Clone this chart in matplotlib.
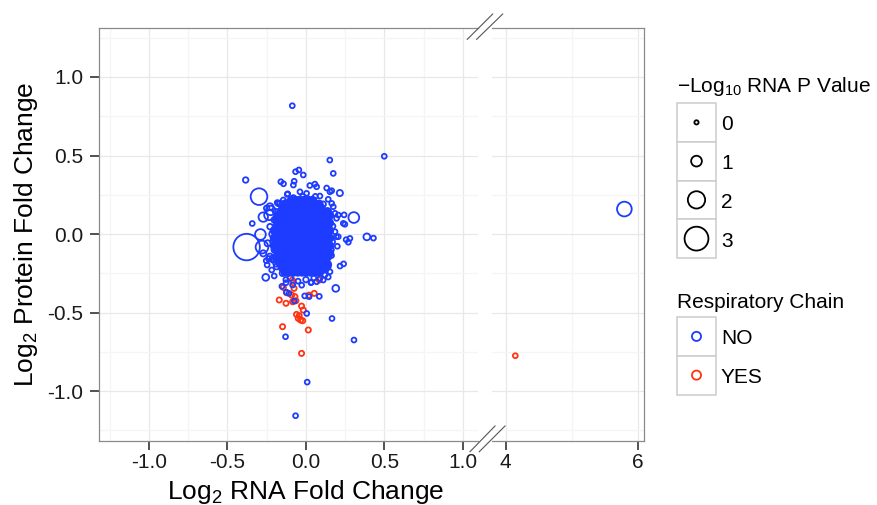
import matplotlib
matplotlib.use('Agg')
import matplotlib.pyplot as plt
from matplotlib.patches import Rectangle
import numpy as np

plt.rcParams['font.family'] = ['Liberation Sans', 'DejaVu Sans']
plt.rcParams['mathtext.fontset'] = 'custom'
plt.rcParams['mathtext.rm'] = 'Liberation Sans'
plt.rcParams['mathtext.it'] = 'Liberation Sans:italic'
plt.rcParams['mathtext.bf'] = 'Liberation Sans:bold'
plt.rcParams['mathtext.default'] = 'regular'
plt.rcParams['axes.unicode_minus'] = False

# ---- data ----
# dense centre of the cloud (respiratory chain = NO), one list of rna fc per protein fc row
core_row_y = [0.214, 0.190, 0.166, 0.142, 0.118, 0.094, 0.070, 0.046, 0.022, -0.002,
              -0.026, -0.050, -0.074, -0.098, -0.122, -0.146, -0.170, -0.194, -0.218,
              -0.242]
core_row_x = [
    [-0.093, -0.066, -0.039, -0.012, 0.015, 0.042],
    [-0.133, -0.106, -0.079, -0.052, -0.025, 0.002, 0.029, 0.056, 0.083],
    [-0.147, -0.120, -0.093, -0.066, -0.039, -0.012, 0.015, 0.042, 0.069, 0.096],
    [-0.160, -0.133, -0.106, -0.079, -0.052, -0.025, 0.002, 0.029, 0.056, 0.083, 0.110, 0.137],
    [-0.174, -0.147, -0.120, -0.093, -0.066, -0.039, -0.012, 0.015, 0.042, 0.069, 0.096, 0.123, 0.150],
    [-0.187, -0.160, -0.133, -0.106, -0.079, -0.052, -0.025, 0.002, 0.029, 0.056, 0.083, 0.110, 0.137],
    [-0.174, -0.147, -0.120, -0.093, -0.066, -0.039, -0.012, 0.015, 0.042, 0.069, 0.096, 0.123, 0.150],
    [-0.187, -0.160, -0.133, -0.106, -0.079, -0.052, -0.025, 0.002, 0.029, 0.056, 0.083, 0.110, 0.137],
    [-0.201, -0.174, -0.147, -0.120, -0.093, -0.066, -0.039, -0.012, 0.015, 0.042, 0.069, 0.096, 0.123, 0.150],
    [-0.187, -0.160, -0.133, -0.106, -0.079, -0.052, -0.025, 0.002, 0.029, 0.056, 0.083, 0.110, 0.137],
    [-0.201, -0.174, -0.147, -0.120, -0.093, -0.066, -0.039, -0.012, 0.015, 0.042, 0.069, 0.096, 0.123, 0.150],
    [-0.187, -0.160, -0.133, -0.106, -0.079, -0.052, -0.025, 0.002, 0.029, 0.056, 0.083, 0.110, 0.137],
    [-0.201, -0.174, -0.147, -0.120, -0.093, -0.066, -0.039, -0.012, 0.015, 0.042, 0.069, 0.096, 0.123, 0.150],
    [-0.187, -0.160, -0.133, -0.106, -0.079, -0.052, -0.025, 0.002, 0.029, 0.056, 0.083, 0.110, 0.137],
    [-0.174, -0.147, -0.120, -0.093, -0.066, -0.039, -0.012, 0.015, 0.042, 0.069, 0.096, 0.123, 0.150],
    [-0.187, -0.160, -0.133, -0.106, -0.079, -0.052, -0.025, 0.002, 0.029, 0.056, 0.083, 0.110, 0.137],
    [-0.174, -0.147, -0.120, -0.093, -0.066, -0.039, -0.012, 0.015, 0.042, 0.069, 0.096, 0.123],
    [-0.160, -0.133, -0.106, -0.079, -0.052, -0.025, 0.002, 0.029, 0.056, 0.083, 0.110, 0.137],
    [-0.147, -0.120, -0.093, -0.066, -0.039, -0.012, 0.015, 0.042, 0.069, 0.096, 0.123],
    [-0.133, -0.106, -0.079, -0.052, -0.025, 0.002, 0.029, 0.056, 0.083],
]
core_p = 0.5

# scattered NO points: rna fc, protein fc, -log10 p
no_x = [-0.087, 0.499, -0.384, -0.299, -0.378, 0.305, 0.388, 0.430, 0.152, 0.174,
        -0.045, -0.066, -0.017, 0.216, 0.243, 0.248, 0.194, 0.256, 0.270, 0.217,
        0.240, 0.190, 0.085, 0.005, 0.166, 0.306, -0.130, 0.008, -0.066, -0.256,
        -0.342, -0.290, -0.272, -0.225, -0.280, -0.153, -0.127, -0.027, 0.034, 0.068,
        0.110, 0.142, -0.074, -0.008, 0.020, -0.125, -0.108, -0.160, -0.143, -0.075,
        -0.080, 0.025, 0.057, 0.068, 0.132, 0.153, 0.164, -0.116, -0.038, 0.004,
        0.089, 0.142, 0.164, 0.174, -0.176, -0.144, 0.185, 0.206, 0.195, 0.238,
        0.185, 0.206, 0.280, 0.121, 0.089, 0.142, 0.153, -0.250, -0.229, -0.229,
        -0.236, -0.214, -0.202, -0.218, -0.247, -0.253, -0.085, 0.032, -0.183, 0.200,
        0.163, 0.121, -0.119, -0.128, -0.234, -0.229, -0.244, -0.272, -0.208, -0.187,
        -0.166, -0.200, -0.205, -0.210,
        -0.190, -0.200, -0.190, -0.150, -0.100, -0.050, 0.000, 0.050, 0.120, 0.160,
        0.170, 0.170, 0.150, 0.110, 0.060, -0.020, -0.080, -0.130, -0.170, -0.190]
no_y = [0.817, 0.495, 0.344, 0.238, -0.083, 0.105, -0.018, -0.026, 0.471, 0.386,
        0.408, 0.397, 0.376, 0.261, 0.122, 0.062, -0.017, -0.036, -0.052, -0.204,
        -0.190, -0.346, -0.397, -0.506, -0.538, -0.675, -0.654, -0.943, -1.157, -0.276,
        0.067, -0.003, 0.108, 0.150, -0.083, -0.333, -0.310, -0.326, -0.307, -0.304,
        -0.293, -0.274, -0.427, -0.394, -0.399, -0.370, -0.378, 0.333, 0.320, 0.336,
        0.312, 0.309, 0.318, 0.301, 0.293, 0.269, 0.276, 0.256, 0.269, 0.259,
        0.242, 0.221, 0.195, 0.174, 0.195, 0.217, 0.132, 0.121, 0.100, 0.068,
        0.015, -0.017, -0.028, -0.261, -0.282, -0.208, -0.240, 0.164, 0.047, -0.144,
        -0.158, -0.155, -0.267, -0.229, -0.197, -0.170, -0.325, -0.310, 0.200, -0.078,
        -0.137, -0.220, 0.253, -0.290, 0.121, 0.174, -0.059, -0.123, -0.166, -0.208,
        0.195, 0.090, -0.050, 0.000,
        0.140, -0.100, -0.190, -0.250, -0.280, -0.300, -0.290, -0.280, -0.180, -0.100,
        -0.050, 0.050, 0.120, 0.190, 0.240, 0.240, 0.230, 0.200, 0.100, 0.040]
no_p = [0.1, 0.1, 0.2, 1.9, 3.4, 1.0, 0.4, 0.1, 0.1, 0.1,
        0.1, 0.1, 0.1, 0.3, 0.1, 0.1, 0.1, 0.1, 0.1, 0.1,
        0.1, 0.4, 0.1, 0.1, 0.1, 0.1, 0.1, 0.1, 0.1, 0.4,
        0.1, 1.0, 0.8, 0.8, 1.3, 0.1, 0.1, 0.1, 0.1, 0.1,
        0.1, 0.1, 0.1, 0.1, 0.1, 0.1, 0.1, 0.1, 0.1, 0.1,
        0.1, 0.1, 0.1, 0.1, 0.1, 0.1, 0.1, 0.1, 0.1, 0.1,
        0.1, 0.1, 0.1, 0.1, 0.2, 0.1, 0.1, 0.1, 0.1, 0.1,
        0.1, 0.1, 0.1, 0.1, 0.1, 0.1, 0.1, 0.2, 0.2, 0.3,
        0.2, 0.2, 0.1, 0.1, 0.1, 0.1, 0.1, 0.1, 0.1, 0.1,
        0.1, 0.1, 0.1, 0.1, 0.9, 0.4, 0.3, 0.3, 0.2, 0.2,
        0.2, 0.3, 0.4, 0.5,
        0.3, 0.3, 0.2, 0.2, 0.2, 0.1, 0.2, 0.1, 0.2, 0.2,
        0.1, 0.2, 0.2, 0.2, 0.1, 0.1, 0.2, 0.1, 0.2, 0.3]

# respiratory chain = YES
yes_x = [-0.170, -0.144, -0.076, -0.123, -0.091, -0.070, -0.127, -0.085, -0.064, 0.019,
         0.053, -0.028, -0.017, -0.060, -0.043, -0.049, -0.034, -0.021, -0.149, 0.015,
         -0.028, -0.081, -0.087, 0.085]
yes_y = [-0.420, -0.340, -0.346, -0.374, -0.389, -0.399, -0.441, -0.431, -0.425, -0.389,
         -0.378, -0.459, -0.484, -0.512, -0.520, -0.537, -0.548, -0.552, -0.590, -0.611,
         -0.760, -0.310, -0.293, -0.293]
yes_p = [0.15] * len(yes_x)

# points beyond the axis break
far_no_x, far_no_y, far_no_p = [5.79], [0.159], [1.6]
far_yes_x, far_yes_y, far_yes_p = [4.145], [-0.775], [0.1]

size_levels = [0, 1, 2, 3]
chain_levels = ['NO', 'YES']

left_xticks = [-1.0, -0.5, 0.0, 0.5, 1.0]
left_xlabels = ['-1.0', '-0.5', '0.0', '0.5', '1.0']
right_xticks = [4, 6]
right_xlabels = ['4', '6']
yticks = [-1.0, -0.5, 0.0, 0.5, 1.0]
ylabels = ['-1.0', '-0.5', '0.0', '0.5', '1.0']

BLUE = '#1E3CFF'
RED = '#FF3311'
LW_PT = 1.3


def marker_area(p):
    d_px = 6.0 + 6.55 * np.asarray(p, dtype=float)
    d_pt = (d_px - LW_PT / 0.72) * 0.72
    return d_pt ** 2


W, H = 878, 505


def fig_rect(x0, x1, y0, y1):
    return [x0 / W, 1 - y1 / H, (x1 - x0) / W, (y1 - y0) / H]


fig = plt.figure(figsize=(8.78, 5.05), dpi=100)
ax_l = fig.add_axes(fig_rect(99.5, 478, 28, 441))
ax_r = fig.add_axes(fig_rect(492, 644, 28, 441))

ax_l.set_xlim(-1.315, 1.096)
ax_r.set_xlim(3.793, 6.086)
for ax in (ax_l, ax_r):
    ax.set_ylim(-1.318, 1.312)
    ax.set_yticks(yticks)
    ax.set_yticks([-1.25, -0.75, -0.25, 0.25, 0.75, 1.25], minor=True)
    ax.set_axisbelow(True)
    ax.grid(which='major', color='#E8E8E8', lw=0.9)
    ax.grid(which='minor', color='#F5F5F5', lw=0.9)
    for s in ax.spines.values():
        s.set_color('#8A8A8A')
        s.set_linewidth(0.9)
    ax.tick_params(which='major', length=6.5, width=1.2, color='#333333',
                   labelsize=15, labelcolor='#1a1a1a')
    ax.tick_params(which='minor', length=0)
    ax.tick_params(axis='x', pad=2.5)
    ax.tick_params(axis='y', pad=5)

ax_l.set_xticks(left_xticks)
ax_l.set_xticklabels(left_xlabels)
ax_l.set_xticks([-1.25, -0.75, -0.25, 0.25, 0.75], minor=True)
ax_l.set_yticklabels(ylabels)
ax_l.spines['right'].set_visible(False)

ax_r.set_xticks(right_xticks)
ax_r.set_xticklabels(right_xlabels)
ax_r.set_xticks([5], minor=True)
ax_r.tick_params(axis='y', which='both', left=False, labelleft=False)
ax_r.spines['left'].set_visible(False)

# scatter
core_x = [x for row in core_row_x for x in row]
core_y = [y for y, row in zip(core_row_y, core_row_x) for _ in row]

ax_l.scatter(yes_x, yes_y, s=marker_area(yes_p), facecolors='none',
             edgecolors=RED, linewidths=LW_PT, zorder=2)
# the centre is so crowded that the rings merge into a solid patch
ax_l.scatter(core_x, core_y, s=marker_area([core_p] * len(core_x)), facecolors=BLUE,
             edgecolors=BLUE, linewidths=LW_PT, zorder=3)
ax_l.scatter(no_x, no_y, s=marker_area(no_p), facecolors='none',
             edgecolors=BLUE, linewidths=LW_PT, zorder=4)
ax_r.scatter(far_yes_x, far_yes_y, s=marker_area(far_yes_p), facecolors='none',
             edgecolors=RED, linewidths=LW_PT, zorder=3)
ax_r.scatter(far_no_x, far_no_y, s=marker_area(far_no_p), facecolors='none',
             edgecolors=BLUE, linewidths=LW_PT, zorder=3)

# overlay in pixel coords for labels, break marks and legends
ov = fig.add_axes([0, 0, 1, 1])
ov.set_xlim(0, W)
ov.set_ylim(H, 0)
ov.axis('off')
ov.patch.set_visible(False)
ov.set_zorder(5)

ov.text(306, 499, 'Log$_2$ RNA Fold Change', fontsize=19, ha='center', va='baseline')
ov.text(33, 234.5, 'Log$_2$ Protein Fold Change', fontsize=19, ha='center',
        va='baseline', rotation=90, rotation_mode='anchor')

for (x0, y0, x1, y1) in [(467.3, 39.3, 492.7, 14), (476.7, 39.3, 502.7, 14),
                         (470, 451.7, 495, 426), (479.3, 451.7, 505, 426)]:
    ov.plot([x0, x1], [y0, y1], color='#555555', lw=0.8)

# size legend
ov.text(677, 91.7, '\u2212Log$_{10}$ RNA P Value', fontsize=15, ha='left', va='baseline')
key = 38.75
for i, lev in enumerate(size_levels):
    top = 103 + i * key
    ov.add_patch(Rectangle((677, top), 39, key, facecolor='white',
                           edgecolor='#CCCCCC', lw=1.1))
    ov.scatter([696.5], [top + key / 2], s=marker_area(lev), facecolors='none',
               edgecolors='black', linewidths=LW_PT, zorder=6)
    ov.text(721, top + key / 2 + 8, str(lev), fontsize=15, ha='left', va='baseline')

# colour legend
ov.text(677, 308, 'Respiratory Chain', fontsize=15, ha='left', va='baseline')
for i, (lev, col) in enumerate(zip(chain_levels, [BLUE, RED])):
    top = 317 + i * key
    ov.add_patch(Rectangle((677, top), 39, key, facecolor='white',
                           edgecolor='#CCCCCC', lw=1.1))
    ov.scatter([696.5], [top + key / 2], s=marker_area(0.75), facecolors='none',
               edgecolors=col, linewidths=LW_PT, zorder=6)
    ov.text(721, top + key / 2 + 8, lev, fontsize=15, ha='left', va='baseline')

fig.savefig('out.png', dpi=100)
